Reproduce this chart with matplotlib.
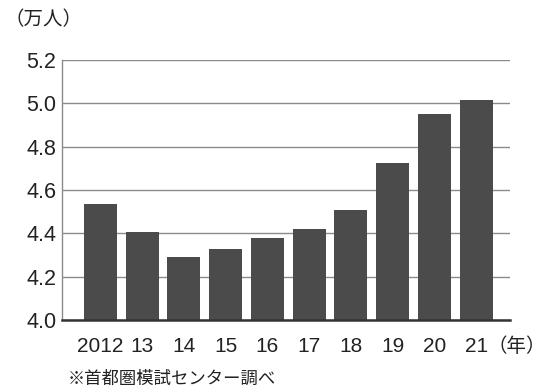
import matplotlib.pyplot as plt

plt.rcParams['font.family'] = ['Liberation Sans', 'Noto Sans CJK JP', 'DejaVu Sans']

# データ（万人）
years = ['2012', '13', '14', '15', '16', '17', '18', '19', '20', '21']
values = [4.535, 4.405, 4.29, 4.328, 4.378, 4.42, 4.508, 4.725, 4.95, 5.015]
yticks = [4.0, 4.2, 4.4, 4.6, 4.8, 5.0, 5.2]

fig = plt.figure(figsize=(5.5, 3.91), dpi=100)
ax = fig.add_axes([62 / 550, 1 - 320 / 391, (510 - 62) / 550, (320 - 60) / 391])

x = range(len(years))
ax.bar(x, values, width=0.79, color='#4b4b4b', zorder=3)

ax.set_ylim(4.0, 5.2)
ax.set_xlim(-0.92, 9.81)
ax.set_yticks(yticks)
ax.set_yticklabels([f'{v:.1f}' for v in yticks], fontsize=15.5, color='#222222')
ax.set_xticks(list(x))
ax.set_xticklabels(years, fontsize=15, color='#222222')
ax.tick_params(axis='y', length=0, pad=4)
ax.tick_params(axis='x', length=0, pad=12)

ax.grid(axis='y', color='#8a8a8a', linewidth=1.0, zorder=0)
ax.spines['top'].set_visible(False)
ax.spines['right'].set_visible(False)
ax.spines['left'].set_color('#8a8a8a')
ax.spines['left'].set_linewidth(1.0)
ax.spines['bottom'].set_color('#333333')
ax.spines['bottom'].set_linewidth(1.8)
ax.spines['bottom'].set_zorder(4)

# 単位・注記
cjk = ['Noto Sans CJK JP', 'DejaVu Sans']
fig.text(4 / 550, 1 - 20 / 391, '（万人）', fontsize=14, va='center', ha='left',
         family=cjk, color='#222222')
fig.text(546 / 550, 1 - 346 / 391, '（年）', fontsize=14, va='center', ha='right',
         family=cjk, color='#222222')
fig.text(68 / 550, 1 - 379 / 391, '※首都圏模試センター調べ', fontsize=12.5, va='center', ha='left',
         family=cjk, color='#222222')

fig.savefig('out.png', dpi=100)
